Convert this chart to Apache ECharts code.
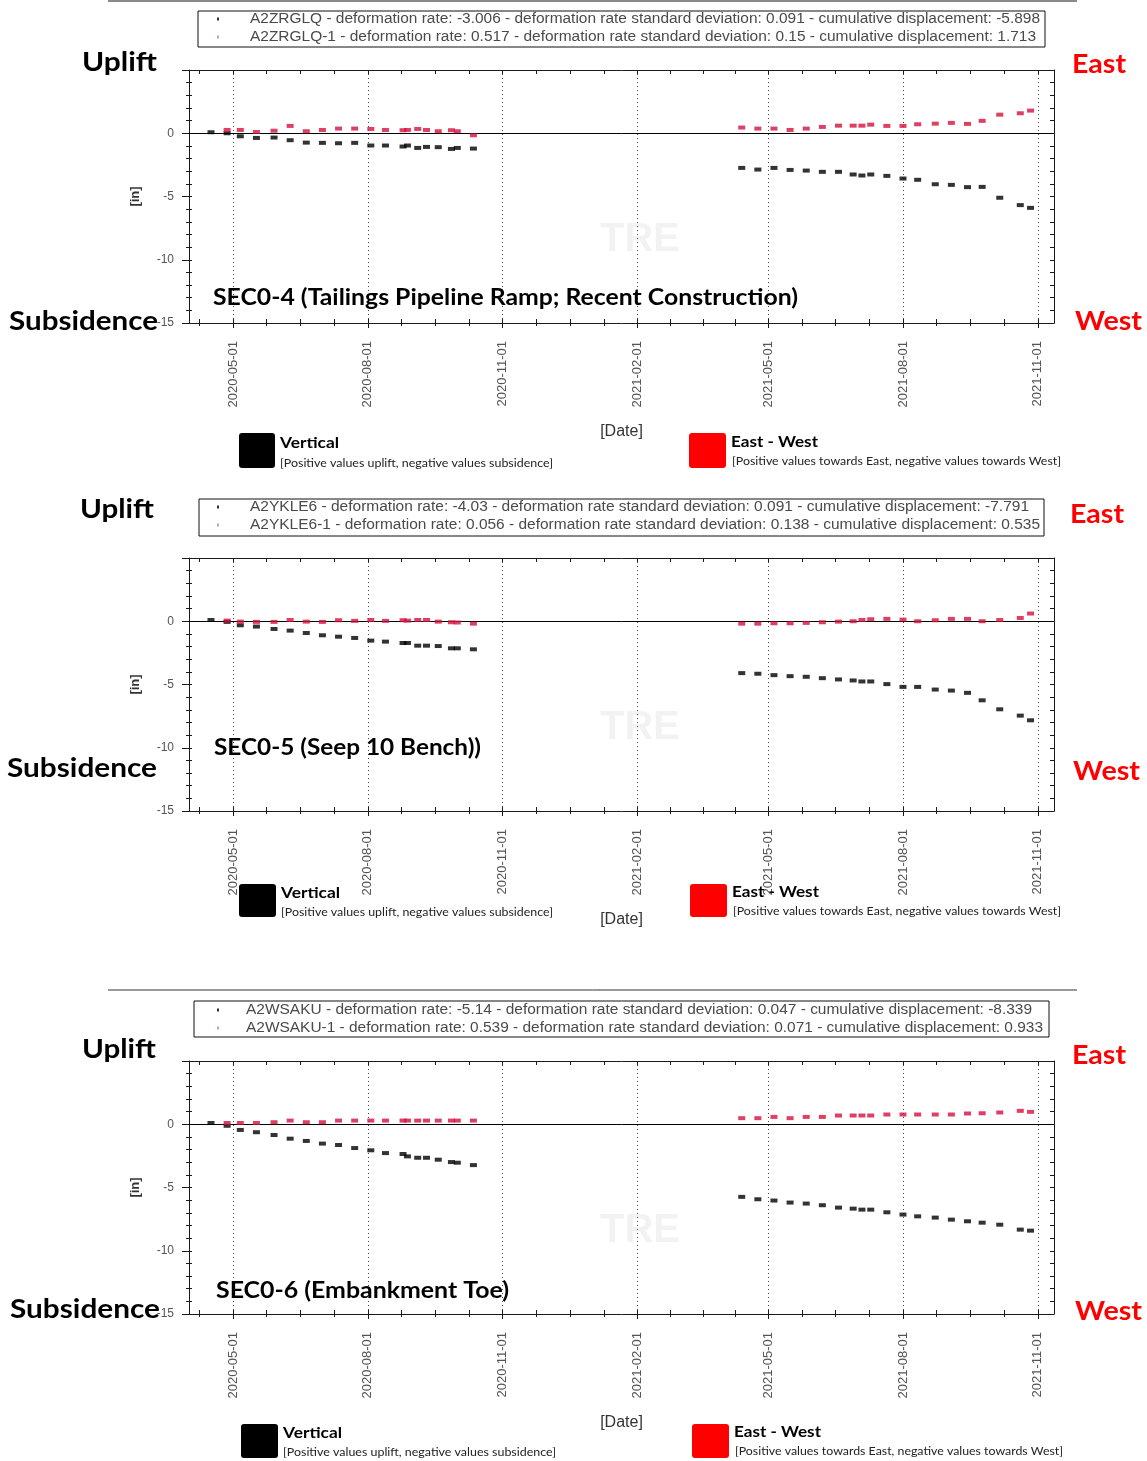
<!DOCTYPE html>
<html><head><meta charset="utf-8">
<script src="https://cdn.jsdelivr.net/npm/echarts@6/dist/echarts.min.js"></script>
<style>html,body{margin:0;padding:0;background:#fff}#c{width:1147px;height:1461px}</style>
</head><body><div id="c"></div>
<script>
// ---------- DATA ----------
const datesA = ['2020-04-16','2020-04-27','2020-05-06','2020-05-17','2020-05-29','2020-06-09','2020-06-20','2020-07-01','2020-07-12','2020-07-23','2020-08-03','2020-08-13','2020-08-25','2020-08-28','2020-09-04','2020-09-10','2020-09-18','2020-09-27','2020-10-01','2020-10-12'];
const datesB = ['2021-04-13','2021-04-24','2021-05-05','2021-05-16','2021-05-27','2021-06-07','2021-06-18','2021-06-28','2021-07-04','2021-07-10','2021-07-21','2021-08-01','2021-08-11','2021-08-23','2021-09-03','2021-09-14','2021-09-24','2021-10-06','2021-10-20','2021-10-27'];

const sec4VertA = [0.08,0,-0.24,-0.37,-0.34,-0.55,-0.74,-0.76,-0.79,-0.76,-0.97,-0.97,-1.05,-0.97,-1.16,-1.08,-1.1,-1.24,-1.16,-1.21];
const sec4EwA   = [null,0.26,0.26,0.1,0.2,0.58,0.16,0.26,0.37,0.37,0.34,0.26,0.24,0.26,0.34,0.26,0.16,0.24,0.16,-0.16];
const sec4VertB = [-2.74,-2.87,-2.74,-2.9,-2.95,-3.05,-3.05,-3.26,-3.34,-3.26,-3.37,-3.58,-3.68,-4.03,-4.08,-4.26,-4.24,-5.1,-5.68,-5.9];
const sec4EwB   = [0.45,0.37,0.37,0.26,0.37,0.5,0.6,0.6,0.6,0.68,0.58,0.58,0.71,0.76,0.82,0.74,0.98,1.47,1.58,1.79];

const sec5VertA = [0.1,-0.05,-0.32,-0.42,-0.61,-0.74,-0.93,-1.11,-1.22,-1.32,-1.53,-1.61,-1.72,-1.72,-1.93,-1.93,-1.96,-2.14,-2.14,-2.22];
const sec5EwA   = [null,0.05,-0.03,-0.05,-0.05,0.1,-0.03,-0.05,0.08,0.03,0.1,0.03,0.08,0.05,0.1,0.1,-0.03,-0.08,-0.1,-0.19];
const sec5VertB = [-4.1,-4.15,-4.26,-4.34,-4.39,-4.5,-4.6,-4.68,-4.76,-4.76,-4.97,-5.19,-5.19,-5.4,-5.48,-5.66,-6.25,-6.96,-7.46,-7.83];
const sec5EwB   = [-0.19,-0.19,-0.16,-0.16,-0.13,-0.08,-0.03,0,0.1,0.16,0.19,0.13,0,0.08,0.19,0.19,0,0.1,0.26,0.61];

const sec6VertA = [0.1,-0.12,-0.45,-0.63,-0.85,-1.14,-1.32,-1.53,-1.64,-1.88,-2.06,-2.28,-2.35,-2.54,-2.65,-2.65,-2.8,-2.99,-3.04,-3.23];
const sec6EwA   = [null,0.1,0.1,0.1,0.16,0.29,0.16,0.16,0.29,0.29,0.29,0.29,0.29,0.29,0.29,0.29,0.29,0.29,0.29,0.29];
const sec6VertB = [-5.74,-5.93,-6.03,-6.19,-6.27,-6.4,-6.59,-6.67,-6.75,-6.75,-6.96,-7.14,-7.28,-7.38,-7.54,-7.67,-7.78,-7.94,-8.33,-8.41];
const sec6EwB   = [0.48,0.48,0.58,0.48,0.58,0.58,0.69,0.69,0.69,0.69,0.77,0.77,0.77,0.77,0.77,0.85,0.87,0.93,1.06,0.98];

const xTickLabels = ['2020-05-01','2020-08-01','2020-11-01','2021-02-01','2021-05-01','2021-08-01','2021-11-01'];
const xMinDate = '2020-04-01', xMaxDate = '2021-11-12';
const yTickValues = [-15,-10,-5,0,5];

const titles = ['SEC0-4 (Tailings Pipeline Ramp; Recent Construction)','SEC0-5 (Seep 10 Bench))','SEC0-6 (Embankment Toe)'];
const legendLines = [
  ['A2ZRGLQ - deformation rate: -3.006 - deformation rate standard deviation: 0.091 - cumulative displacement: -5.898',
   'A2ZRGLQ-1 - deformation rate: 0.517 - deformation rate standard deviation: 0.15 - cumulative displacement: 1.713'],
  ['A2YKLE6 - deformation rate: -4.03 - deformation rate standard deviation: 0.091 - cumulative displacement: -7.791',
   'A2YKLE6-1 - deformation rate: 0.056 - deformation rate standard deviation: 0.138 - cumulative displacement: 0.535'],
  ['A2WSAKU - deformation rate: -5.14 - deformation rate standard deviation: 0.047 - cumulative displacement: -8.339',
   'A2WSAKU-1 - deformation rate: 0.539 - deformation rate standard deviation: 0.071 - cumulative displacement: 0.933']
];
const seriesNames = ['Vertical','East - West'];
const seriesNotes = ['[Positive values uplift, negative values subsidence]','[Positive values towards East, negative values towards West]'];

// ---------- LAYOUT ----------
const T = d => +echarts.time.parse(d);
const tMin = T(xMinDate), tMax = T(xMaxDate);
const majorTs = xTickLabels.map(T);
const minorTs = [];
for (let i = 0; i < majorTs.length; i++) {
  const step = (i < majorTs.length - 1 ? majorTs[i+1] - majorTs[i] : majorTs[i] - majorTs[i-1]) / 4;
  for (let k = 1; k < 4; k++) { const v = majorTs[i] + k*step; if (v < tMax) minorTs.push(v); }
  if (i === 0) for (let k = 1; k < 4; k++) { const v = majorTs[0] - k*step; if (v > tMin) minorTs.push(v); }
}
const allTs = majorTs.concat(minorTs);

const panels = [
  {top:70, vA:sec4VertA, eA:sec4EwA, vB:sec4VertB, eB:sec4EwB,
   box:[198,11,847,36], lines:[[250,19,790],[250,37,786]],
   up:[82,62,75], sub:[9,321,149], east:[1072,64,54], west:[1075,321,67], title:[213,298,585],
   sq:[[239,433,36,35],[689,433,37,35]], nm:[[280,443,59],[731,442,87]], nt:[[280,463,273],[732,461,329]]},
  {top:558, vA:sec5VertA, eA:sec5EwA, vB:sec5VertB, eB:sec5EwB,
   box:[199,499,845,37], lines:[[250,507,779],[250,525,790]],
   up:[80,509,74], sub:[7,768,150], east:[1070,514,54], west:[1073,771,67], title:[214,748,267],
   sq:[[239,884,37,33],[690,884,37,33]], nm:[[281,893,59],[732,892,87]], nt:[[281,912,272],[733,911,328]]},
  {top:1061, vA:sec6VertA, eA:sec6EwA, vB:sec6VertB, eB:sec6EwB,
   box:[194,1001,855,36], lines:[[246,1010,786],[246,1028,797]],
   up:[82,1049,74], sub:[10,1309,150], east:[1072,1055,54], west:[1075,1311,67], title:[216,1291,293],
   sq:[[241,1424,37,34],[692,1424,37,34]], nm:[[283,1433,59],[734,1432,87]], nt:[[283,1452,273],[735,1451,328]]}
];

const mctx = document.createElement('canvas').getContext('2d');
function txt(str, font, pos, color, z) {
  mctx.font = font;
  const m = mctx.measureText(str).width;
  return {type:'text', x:pos[0], y:pos[1], scaleX: pos[2] ? pos[2]/m : 1, silent:true, z: z || 100,
    style:{text:str, font:font, fill:color, textAlign:'left', textVerticalAlign:'middle'}};
}

const AX = '#1a1a1a', LBL = '#555';
const grid = [], xAxis = [], yAxis = [], series = [], graphic = [];
const BIG = 'bold 27px Lato', RED = '#ff0000', MK = '#d3123e';

graphic.push({type:'line', silent:true, shape:{x1:108,y1:1,x2:1077,y2:1}, style:{stroke:'#8a8a8a', lineWidth:2}});
graphic.push({type:'line', silent:true, shape:{x1:108,y1:990,x2:1077,y2:990}, style:{stroke:'#333', lineWidth:1}});

panels.forEach((p, i) => {
  grid.push({left:189, width:865, top:p.top, height:253});
  const xb = 4*i, yb = 3*i;
  xAxis.push({gridIndex:i, type:'value', min:tMin, max:tMax, position:'bottom', scale:true,
    axisLine:{onZero:false, lineStyle:{color:AX, width:1}},
    axisTick:{show:true, customValues:majorTs, length:5, lineStyle:{color:AX}},
    axisLabel:{show:true, customValues:majorTs, rotate:90, margin:18, color:LBL, fontSize:13, fontFamily:'Liberation Sans',
      formatter: v => { const k = majorTs.indexOf(v); return k >= 0 ? xTickLabels[k] : ''; }},
    splitLine:{show:true, lineStyle:{color:'#444', type:[1,3], width:1}},
    name:'[Date]', nameLocation:'middle', nameGap:101,
    nameTextStyle:{color:'#333', fontSize:16, fontFamily:'Liberation Sans'}});
  xAxis.push({gridIndex:i, type:'value', min:tMin, max:tMax, position:'bottom', scale:true,
    axisLine:{show:false, onZero:false}, axisTick:{show:true, inside:true, customValues:allTs, length:4, lineStyle:{color:AX}},
    axisLabel:{show:false}, splitLine:{show:false}});
  xAxis.push({gridIndex:i, type:'value', min:tMin, max:tMax, position:'bottom', scale:true,
    axisLine:{show:false, onZero:false}, axisTick:{show:true, customValues:minorTs, length:3, lineStyle:{color:AX}},
    axisLabel:{show:false}, splitLine:{show:false}});
  xAxis.push({gridIndex:i, type:'value', min:tMin, max:tMax, position:'top', scale:true,
    axisLine:{show:true, onZero:false, lineStyle:{color:AX}}, axisTick:{show:true, inside:true, customValues:allTs, length:4, lineStyle:{color:AX}},
    axisLabel:{show:false}, splitLine:{show:false}});

  yAxis.push({gridIndex:i, type:'value', min:yTickValues[0], max:yTickValues[yTickValues.length-1], interval:5, position:'left',
    axisLine:{show:true, onZero:false, lineStyle:{color:AX}},
    axisTick:{show:true, length:7, lineStyle:{color:AX}},
    minorTick:{show:true, splitNumber:5, length:3, lineStyle:{color:AX}},
    axisLabel:{margin:15, color:LBL, fontSize:12, fontFamily:'Liberation Sans', formatter: v => v === 5 ? '' : String(v)},
    splitLine:{show:false},
    name:'[in]', nameLocation:'middle', nameGap:47,
    nameTextStyle:{color:'#333', fontSize:13, fontWeight:'bold', fontFamily:'Liberation Sans'}});
  yAxis.push({gridIndex:i, type:'value', min:-15, max:5, interval:1, position:'left',
    axisLine:{show:false, onZero:false}, axisTick:{show:true, inside:true, length:3, lineStyle:{color:AX}},
    axisLabel:{show:false}, splitLine:{show:false}});
  yAxis.push({gridIndex:i, type:'value', min:-15, max:5, interval:1, position:'right',
    axisLine:{show:true, onZero:false, lineStyle:{color:AX}}, axisTick:{show:true, inside:true, length:4, lineStyle:{color:AX}},
    axisLabel:{show:false}, splitLine:{show:false}});

  const pts = (dates, vals) => dates.map((d, j) => [T(d), vals[j]]).filter(q => q[1] !== null);
  series.push({type:'scatter', name:'Vertical '+i, xAxisIndex:xb, yAxisIndex:yb, symbol:'rect', symbolSize:[7,4],
    itemStyle:{color:'#000'}, data: pts(datesA, p.vA).concat(pts(datesB, p.vB)), z:5,
    markLine:{silent:true, symbol:'none', label:{show:false}, lineStyle:{color:'#000', type:'solid', width:1}, data:[{yAxis:0}], z:3}});
  series.push({type:'scatter', name:'East-West '+i, xAxisIndex:xb, yAxisIndex:yb, symbol:'rect', symbolSize:[7,4],
    itemStyle:{color:MK}, data: pts(datesA, p.eA).concat(pts(datesB, p.eB)), z:6});

  graphic.push({type:'rect', silent:true, shape:{x:p.box[0], y:p.box[1], width:p.box[2], height:p.box[3]}, style:{fill:'none', stroke:'#111', lineWidth:1}});
  graphic.push({type:'rect', silent:true, shape:{x:217, y:p.lines[0][1]-1.5, width:2, height:3}, style:{fill:'#333'}});
  graphic.push({type:'rect', silent:true, shape:{x:217, y:p.lines[1][1]-1.5, width:2, height:3}, style:{fill:'#c9a0aa'}});
  graphic.push(txt(legendLines[i][0], '14px "Liberation Sans"', p.lines[0], '#4a4a4a'));
  graphic.push(txt(legendLines[i][1], '14px "Liberation Sans"', p.lines[1], '#4a4a4a'));
  graphic.push(txt('Uplift', BIG, p.up, '#000'));
  graphic.push(txt('Subsidence', BIG, p.sub, '#000'));
  graphic.push(txt('East', BIG, p.east, RED));
  graphic.push(txt('West', BIG, p.west, RED));
  graphic.push(txt(titles[i], 'bold 23px Lato', p.title, '#000'));
  graphic.push({type:'text', silent:true, x:640, y:p.top+170, z:1, style:{text:'TRE', font:'bold 40px "Liberation Sans"', fill:'rgba(0,0,0,0.05)', textAlign:'center', textVerticalAlign:'middle'}});
  graphic.push({type:'rect', silent:true, shape:{x:p.sq[0][0], y:p.sq[0][1], width:p.sq[0][2], height:p.sq[0][3], r:3}, style:{fill:'#000'}});
  graphic.push({type:'rect', silent:true, shape:{x:p.sq[1][0], y:p.sq[1][1], width:p.sq[1][2], height:p.sq[1][3], r:3}, style:{fill:'#ff0000'}});
  graphic.push(txt(seriesNames[0], 'bold 16px Lato', p.nm[0], '#000'));
  graphic.push(txt(seriesNames[1], 'bold 16px Lato', p.nm[1], '#000'));
  graphic.push(txt(seriesNotes[0], '11.5px Lato', p.nt[0], '#222'));
  graphic.push(txt(seriesNotes[1], '11.5px Lato', p.nt[1], '#222'));
});

const chart = echarts.init(document.getElementById('c'), null, {renderer:'canvas'});
chart.setOption({animation:false, backgroundColor:'#fff', grid, xAxis, yAxis, series, graphic});
</script>
</body></html>
